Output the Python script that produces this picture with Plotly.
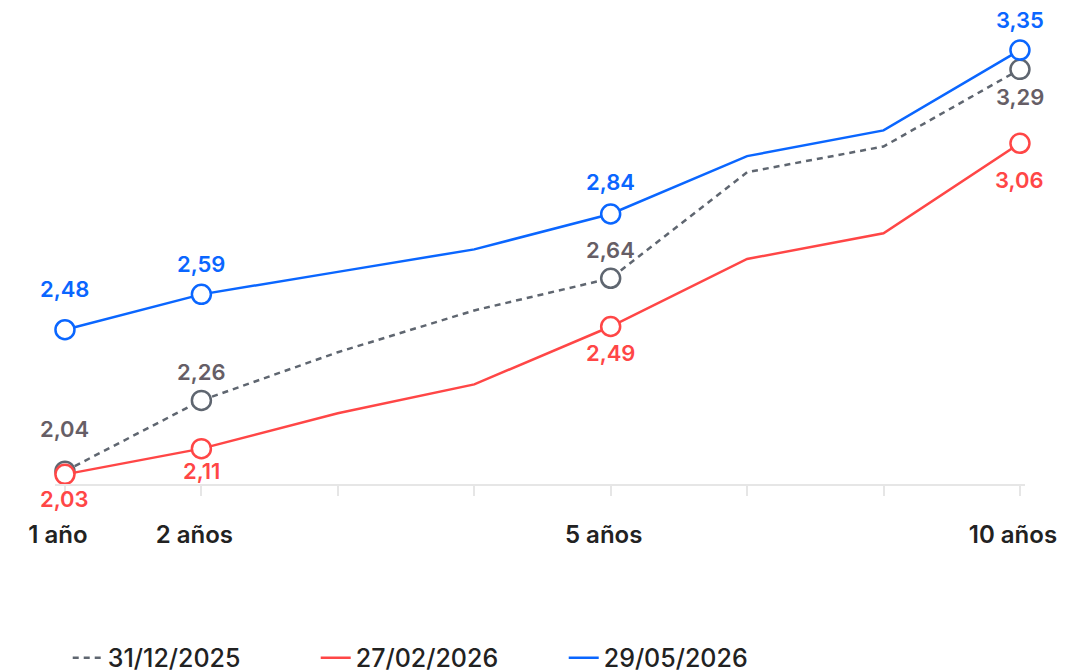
import plotly.graph_objects as go

# Data
maturities = ["1 año", "2 años", "3 años", "4 años", "5 años", "7 años", "8 años", "10 años"]
tick_labels = ["1 año", "2 años", "", "", "5 años", "", "", "10 años"]
labeled = [True, True, False, False, True, False, False, True]

s_dec = [2.04, 2.26, 2.41, 2.54, 2.64, 2.97, 3.05, 3.29]
s_feb = [2.03, 2.11, 2.22, 2.31, 2.49, 2.70, 2.78, 3.06]
s_may = [2.48, 2.59, 2.66, 2.73, 2.84, 3.02, 3.10, 3.35]

names = ["31/12/2025", "27/02/2026", "29/05/2026"]

# styles
colors = ["#5f6670", "#ff4646", "#0a66ff"]
label_colors = ["#665e66", "#ff4646", "#0a66ff"]
dashes = ["6px,5px", "solid", "solid"]
# vertical label offsets (px) for labeled points, per series
label_shift = [
    [42, 28, 28, -28],
    [-25, -22, -26, -37],
    [41, 30, 32, 30],
]

FONT = "Inter"
x = list(range(len(maturities)))

fig = go.Figure()
annotations = []
for si, (vals, name) in enumerate(zip([s_dec, s_feb, s_may], names)):
    fig.add_trace(go.Scatter(
        x=x, y=vals, name=name, mode="lines",
        line=dict(color=colors[si], width=2.5, dash=dashes[si]),
        hoverinfo="skip",
    ))
    mx = [xi for xi, l in zip(x, labeled) if l]
    my = [v for v, l in zip(vals, labeled) if l]
    fig.add_trace(go.Scatter(
        x=mx, y=my, mode="markers", showlegend=False,
        marker=dict(symbol="circle", size=19, color="white",
                    line=dict(color=colors[si], width=2.5)),
        hoverinfo="skip", cliponaxis=False,
    ))
    for k, (xx, yy) in enumerate(zip(mx, my)):
        annotations.append(dict(
            x=xx, y=yy, xref="x", yref="y",
            text=f"{yy:.2f}".replace(".", ","),
            showarrow=False, yshift=label_shift[si][k],
            font=dict(family=FONT, size=22, color=label_colors[si], weight=600),
        ))

fig.update_layout(
    width=1075, height=672,
    margin=dict(l=55, r=50, t=33.5, b=188, autoexpand=False),
    plot_bgcolor="white", paper_bgcolor="white",
    annotations=annotations,
    showlegend=True,
    hovermode=False,
    legend=dict(orientation="h", xref="container", yref="container",
                x=0.063, y=0.021, xanchor="left", yanchor="middle",
                font=dict(family=FONT, size=25, color="#222222", weight=500),
                entrywidth=203, tracegroupgap=0),
    xaxis=dict(
        range=[-0.073, 7.037], domain=[0, 1],
        tickmode="array", tickvals=x, ticktext=tick_labels,
        showgrid=False, zeroline=False,
        showline=True, linecolor="#e6e6e6", linewidth=2,
        ticks="outside", ticklen=10, tickwidth=2, tickcolor="#e6e6e6",
        tickfont=dict(family=FONT, size=24, color="#222222", weight=600),
        ticklabelstandoff=18, ticklabelshift=-7, automargin=False,
    ),
    yaxis=dict(range=[2.0, 3.4], visible=False, showgrid=False, zeroline=False),
)

fig.write_html(
    "out.html",
    config={"displayModeBar": False},
    post_script="document.body.style.margin='0';document.body.style.overflow='hidden';",
)
